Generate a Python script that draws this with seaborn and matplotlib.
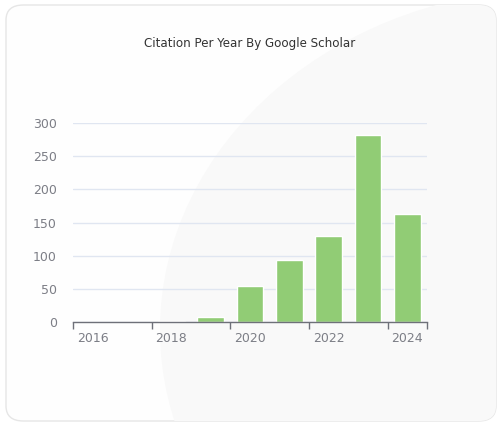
import matplotlib
matplotlib.use('Agg')
import matplotlib.pyplot as plt
from matplotlib.patches import FancyBboxPatch, Circle
from matplotlib.ticker import FixedLocator
import pandas as pd
import seaborn as sns

# ─── Data ─────────────────────────────────────────────────────────────────────
years = ['2016', '2017', '2018', '2019', '2020', '2021', '2022', '2023', '2024']
citations = [0, 0, 1, 8, 55, 94, 130, 282, 163]
y_ticks = [0, 50, 100, 150, 200, 250, 300]
title = 'Citation Per Year By Google Scholar'

BAR = '#91CC75'
AXIS = '#6E7079'
LABEL = '#7C7E86'
GRID = '#E0E6F1'

df = pd.DataFrame({'year': years, 'citations': citations})

sns.set_style('white')
plt.rcParams['font.family'] = ['DejaVu Sans']

W, H = 501, 428
fig = plt.figure(figsize=(W / 100, H / 100), dpi=100)
fig.patch.set_facecolor('white')

# card background with faint circle decoration
card = FancyBboxPatch((6 / W, 7 / H), 490 / W, 416 / H,
                      boxstyle='round,pad=0,rounding_size=0.035',
                      transform=fig.transFigure, facecolor='#FEFEFE',
                      edgecolor='#E6E6E6', linewidth=1.0, zorder=-2)
fig.patches.append(card)
circ = Circle((560 / W, 1 - 330 / H), 400 / W, transform=fig.transFigure,
              facecolor='#F9F9F9', edgecolor='none', zorder=-1)
circ.set_clip_path(card)
fig.patches.append(circ)

ax = fig.add_axes([73 / W, 106 / H, 354 / W, 199 / H])
ax.patch.set_alpha(0)

sns.barplot(data=df, x='year', y='citations', order=years, color=BAR,
            saturation=1, width=0.68, ax=ax, zorder=3)

ax.set_xlim(-0.5, len(years) - 0.5)
ax.set_ylim(0, 300)
ax.set_yticks(y_ticks)
ax.set_xlabel('')
ax.set_ylabel('')

# labels every other category, ticks on category boundaries
ax.set_xticks(range(0, len(years), 2))
ax.set_xticklabels(years[::2])
ax.xaxis.set_minor_locator(FixedLocator([-0.5, 1.5, 3.5, 5.5, 7.5, len(years) - 0.5]))
ax.tick_params(axis='x', which='major', bottom=False, pad=4, labelsize=9,
               labelcolor=LABEL)
ax.tick_params(axis='x', which='minor', bottom=True, length=5, width=1,
               color=AXIS, direction='out')
ax.tick_params(axis='y', left=False, pad=8, labelsize=9, labelcolor=LABEL)

ax.grid(axis='y', color=GRID, linewidth=1, zorder=0)
for side in ('left', 'right', 'top'):
    ax.spines[side].set_visible(False)
ax.spines['bottom'].set_color(AXIS)
ax.spines['bottom'].set_linewidth(1)
ax.spines['bottom'].set_zorder(4)

fig.text(250 / W, 1 - 43 / H, title, ha='center', va='center',
         fontsize=8.6, color='#333333')

fig.savefig('out.png', dpi=100)
